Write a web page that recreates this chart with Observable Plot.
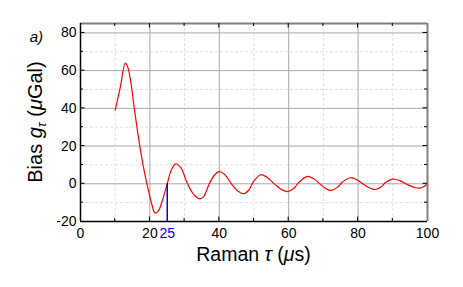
<!DOCTYPE html>
<html>
<head>
<meta charset="utf-8">
<script src="https://cdn.jsdelivr.net/npm/d3@7"></script>
<script src="https://cdn.jsdelivr.net/npm/@observablehq/plot@0.6"></script>
<style>
  html, body { margin: 0; padding: 0; background: #fff; }
  svg { display: block; }
</style>
</head>
<body>
<div id="chart"></div>
<script>
const tau = [10, 11.5, 12.9, 13.6, 14.5, 15.5, 16.5, 17.5, 18.5, 19.5, 20.5, 21.5, 22.5, 23.5, 25, 26, 27.4, 29, 30.5, 32, 33, 34.4, 35.5, 37, 38.5, 39.9, 41.5, 43.5, 45.5, 47.1, 48.5, 50, 51.9, 53.5, 56, 58, 59.8, 61.5, 63, 65.4, 67, 69.2, 71, 72.3, 74, 75.5, 77.7, 79.5, 82, 84, 85.1, 86.5, 88, 89.9, 92, 94.5, 96, 97.6, 99, 100];
const bias = [39, 51.5, 64, 62, 54, 40, 27, 15.5, 5.5, -3, -10.5, -15.6, -14.2, -9.5, 0, 6.5, 10.6, 8.3, 1.5, -4, -6.5, -8, -6.8, -0.5, 4.4, 6.5, 5, 0, -4.1, -5.3, -3.3, 1.5, 4.8, 3.8, -0.3, -3.1, -4.1, -2.4, 0.9, 3.9, 2.9, -0.4, -2.9, -3.5, -1.9, 0.9, 3.2, 2.3, -0.8, -2.7, -3, -1.8, 0.8, 2.5, 1.7, -0.7, -1.8, -2.3, -1.4, 0];
const xTickLabels = [0, 20, 40, 60, 80, 100];
const xMarked = 25;
const yTickLabels = [-20, 0, 20, 40, 60, 80];
const xMajorGrid = [20, 40, 60, 80];
const xMinorGrid = [10, 30, 50, 70, 90];
const yMajorGrid = [0, 20, 40, 60, 80];
const yMinorGrid = [-10, 10, 30, 50, 70];

const data = tau.map((t, i) => ({tau: t, bias: bias[i]}));
const X0 = 0, X1 = 100, Y0 = -20, Y1 = 85;

const plot = Plot.plot({
  width: 463,
  height: 287,
  marginLeft: 80,
  marginRight: 36,
  marginTop: 23,
  marginBottom: 66,
  style: {fontFamily: "'Liberation Sans', Arial, sans-serif", background: "#fff"},
  x: {domain: [X0, X1], axis: null},
  y: {domain: [Y0, Y1], axis: null},
  marks: [
    Plot.ruleX(xMinorGrid, {y1: Y0, y2: Y1, stroke: "#d8d8d8", strokeDasharray: "3,2", strokeWidth: 0.8}),
    Plot.ruleY(yMinorGrid, {x1: X0, x2: X1, stroke: "#d8d8d8", strokeDasharray: "3,2", strokeWidth: 0.8}),
    Plot.ruleX(xMajorGrid, {y1: Y0, y2: Y1, stroke: "#a8a8a8", strokeWidth: 1}),
    Plot.ruleY(yMajorGrid, {x1: X0, x2: X1, stroke: "#a8a8a8", strokeWidth: 1}),
    Plot.line(data, {x: "tau", y: "bias", stroke: "#ff0000", strokeWidth: 1.2, curve: "catmull-rom"}),
    Plot.ruleX([xMarked], {y1: Y0, y2: 0, stroke: "#0000ff", strokeWidth: 1.5}),
    Plot.ruleX([X1], {y1: Y0, y2: Y1, stroke: "#808080", strokeWidth: 2}),
    Plot.ruleY([Y1], {x1: X0, x2: X1, stroke: "#808080", strokeWidth: 2}),
    Plot.ruleX([X0], {y1: Y0, y2: Y1, stroke: "#000", strokeWidth: 1.5}),
    Plot.ruleY([Y0], {x1: X0, x2: X1, stroke: "#000", strokeWidth: 1.5}),
    Plot.text(xTickLabels, {x: d => d, y: Y0, dy: 12, fill: "#000", fontSize: 14, lineAnchor: "middle"}),
    Plot.text([xMarked], {x: d => d, y: Y0, dy: 12, fill: "#0000ff", fontSize: 14, lineAnchor: "middle"}),
    Plot.text(yTickLabels, {x: X0, y: d => d, dx: -4, fill: "#000", fontSize: 14, textAnchor: "end", lineAnchor: "middle"})
  ]
});

document.getElementById("chart").appendChild(plot);

// inward ticks on all four sides
const sx = plot.scale("x"), sy = plot.scale("y");
const svg = d3.select(plot);
const g = svg.append("g").attr("stroke", "#000").attr("stroke-width", 1);
const xt = [...xMinorGrid.map(v => [v, 3]), ...xMajorGrid.map(v => [v, 4.5])];
const yt = [...yMinorGrid.map(v => [v, 3]), ...yMajorGrid.map(v => [v, 4.5])];
const pxL = sx.apply(X0), pxR = sx.apply(X1), pyB = sy.apply(Y0), pyT = sy.apply(Y1);
for (const [v, l] of xt) {
  const px = sx.apply(v);
  g.append("line").attr("x1", px).attr("x2", px).attr("y1", pyB).attr("y2", pyB - l);
  g.append("line").attr("x1", px).attr("x2", px).attr("y1", pyT).attr("y2", pyT + l);
}
for (const [v, l] of yt) {
  const py = sy.apply(v);
  g.append("line").attr("y1", py).attr("y2", py).attr("x1", pxL).attr("x2", pxL + l);
  g.append("line").attr("y1", py).attr("y2", py).attr("x1", pxR).attr("x2", pxR - l);
}

// axis titles with italic symbols
const ff = "'Liberation Sans', Arial, sans-serif";
const xl = svg.append("text")
  .attr("x", (pxL + pxR) / 2).attr("y", 261)
  .attr("text-anchor", "middle").attr("font-size", 19.5).attr("font-family", ff).attr("fill", "#000");
xl.append("tspan").text("Raman ");
xl.append("tspan").attr("font-style", "italic").text("τ");
xl.append("tspan").text(" (");
xl.append("tspan").attr("font-style", "italic").text("μ");
xl.append("tspan").text("s)");

const yl = svg.append("text")
  .attr("transform", `translate(42,${(pyT + pyB) / 2}) rotate(-90)`)
  .attr("text-anchor", "middle").attr("font-size", 20).attr("font-family", ff).attr("fill", "#000");
yl.append("tspan").text("Bias ");
yl.append("tspan").attr("font-style", "italic").text("g");
yl.append("tspan").attr("font-style", "italic").attr("font-size", 13).attr("dy", 4).text("τ");
yl.append("tspan").attr("dy", -4).text(" (");
yl.append("tspan").attr("font-style", "italic").text("μ");
yl.append("tspan").text("Gal)");

svg.append("text")
  .attr("x", 43).attr("y", 42).attr("text-anchor", "end")
  .attr("font-size", 15).attr("font-style", "italic").attr("font-family", ff).attr("fill", "#000")
  .text("a)");
</script>
</body>
</html>
